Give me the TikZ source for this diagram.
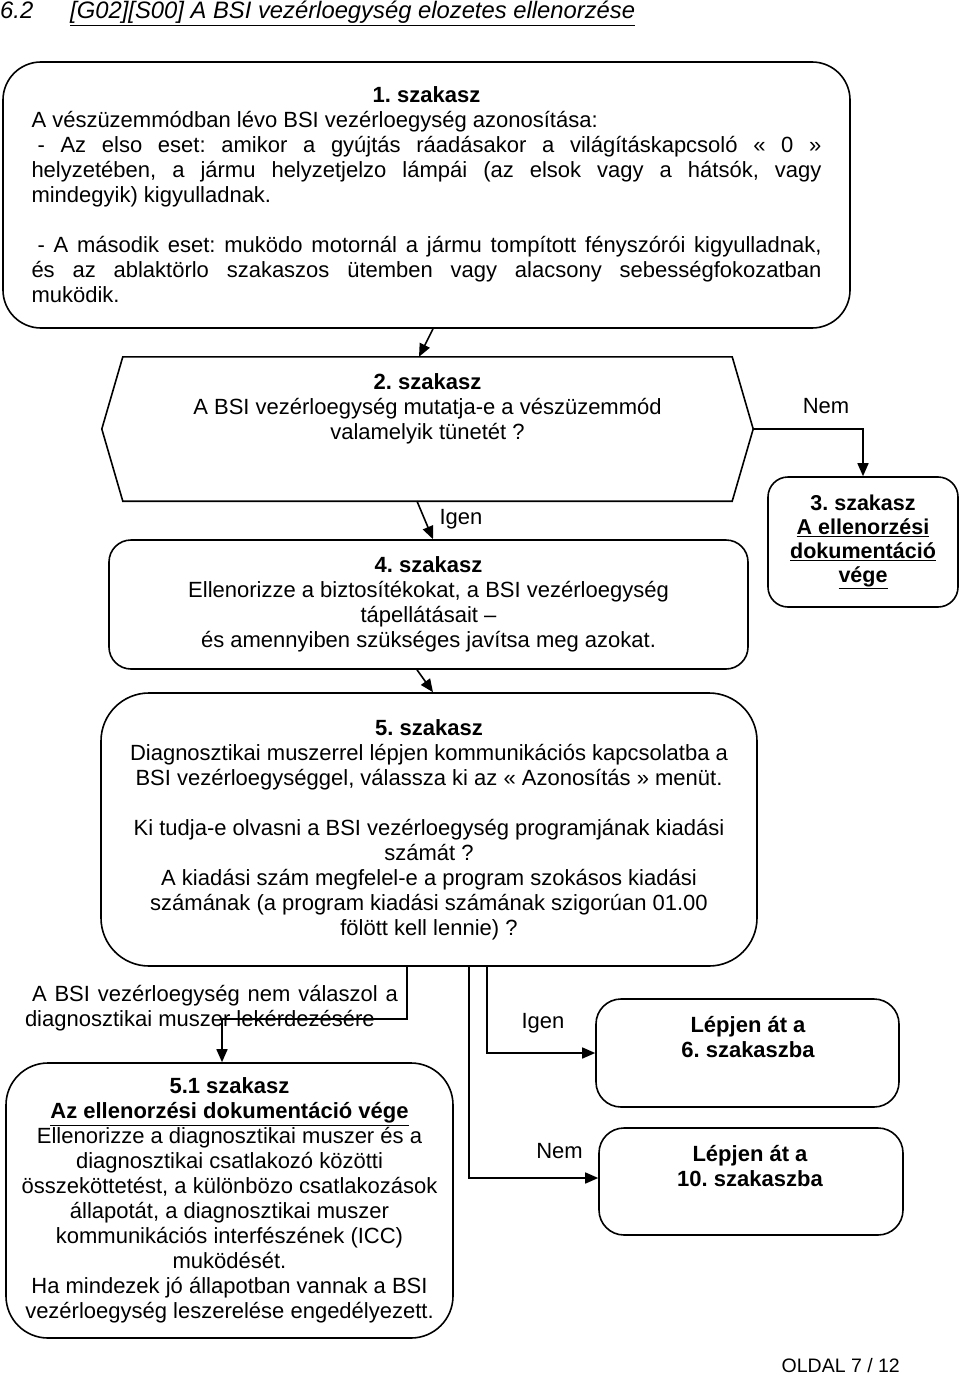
\documentclass[tikz,border=0pt]{standalone}
\usepackage{fontspec}
\setmainfont{Liberation Sans}
\usetikzlibrary{arrows.meta}
\newcommand\bodysize{\fontsize{22}{25}\selectfont}
\hyphenpenalty=10000
\exhyphenpenalty=10000
\frenchspacing

\begin{document}
\begin{tikzpicture}[x=1pt,y=-1pt,
	box/.style={draw=black, line width=1.6pt, inner sep=0pt, align=center, font=\bodysize},
	txt/.style={inner sep=0pt, align=center, font=\bodysize},
	flow/.style={-{Triangle[length=13pt,width=11pt]}, line width=1.6pt},
	wire/.style={line width=1.6pt}]
	\useasboundingbox (0,0) rectangle (960,1375);

	% title
	\node[anchor=base west, inner sep=0pt, font=\fontsize{23.8}{27}\selectfont\itshape] (num) at (0,19) {6.2};
	\node[anchor=base west, inner sep=0pt, font=\fontsize{23.8}{27}\selectfont\itshape] (title) at (70,19) {\underline{[G02][S00] A BSI vezérloegység elozetes ellenorzése}};

	% boxes
	\node[box, rounded corners=38pt, minimum width=847pt, minimum height=266pt, text width=790pt, align=justify] (s1) at (426.5,195) {\centerline{\textbf{1. szakasz}}
		A vészüzemmódban lévo BSI vezérloegység azonosítása:\par
		\hspace*{6pt}- Az elso eset: amikor a gyújtás ráadásakor a világításkapcsoló «~0~»\linebreak
		helyzetében, a jármu helyzetjelzo lámpái (az elsok vagy a hátsók, vagy\linebreak
		mindegyik) kigyulladnak.\par\vskip 25pt
		\hspace*{6pt}- A második eset: muködo motornál a jármu tompított fényszórói kigyulladnak,\linebreak
		és az ablaktörlo szakaszos ütemben vagy alacsony sebességfokozatban\linebreak
		muködik.};

	\node[minimum width=609pt, minimum height=144pt, inner sep=0pt] (s2) at (427.5,429) {};
	\coordinate (s2l) at ([xshift=-21pt]s2.west);
	\coordinate (s2r) at ([xshift=21pt]s2.east);
	\draw[wire] (s2.north west) -- (s2.north east) -- (s2r) -- (s2.south east) -- (s2.south west) -- (s2l) -- cycle;
	\node[txt] (s2t) at (427.5,409) {\textbf{2. szakasz}\\A BSI vezérloegység mutatja-e a vészüzemmód\\valamelyik tünetét ?};

	\node[box, rounded corners=20pt, minimum width=190pt, minimum height=130pt, font=\fontsize{21.5}{23.7}\selectfont\bfseries] (s3) at (863,542) {3. szakasz\\\underline{A ellenorzési}\\\underline{dokumentáció}\\\underline{vége}};

	\node[box, rounded corners=22pt, minimum width=639pt, minimum height=129pt] (s4) at (428.5,604.5) {\textbf{4. szakasz}\\Ellenorizze a biztosítékokat, a BSI vezérloegység\\tápellátásait --\\és amennyiben szükséges javítsa meg azokat.};

	\node[box, rounded corners=48pt, minimum width=656pt, minimum height=273pt] (s5) at (429,829.5) {\textbf{5. szakasz}\\Diagnosztikai muszerrel lépjen kommunikációs kapcsolatba a\\BSI vezérloegységgel, válassza ki az «~Azonosítás~» menüt.\\[25pt]Ki tudja-e olvasni a BSI vezérloegység programjának kiadási\\számát ?\\A kiadási szám megfelel-e a program szokásos kiadási\\számának (a program kiadási számának szigorúan 01.00\\fölött kell lennie) ?};

	\node[box, rounded corners=25pt, minimum width=303pt, minimum height=108pt] (s6) at (747.5,1053) {};
	\node[txt, font=\bodysize\bfseries] (s6t) at (748,1037) {Lépjen át a\\6. szakaszba};

	\node[box, rounded corners=25pt, minimum width=304pt, minimum height=107pt] (s10) at (751,1181.5) {};
	\node[txt, font=\bodysize\bfseries] (s10t) at (750,1166.5) {Lépjen át a\\10. szakaszba};

	\node[box, rounded corners=42pt, minimum width=447pt, minimum height=275pt] (s51) at (229.5,1200.5) {\textbf{5.1 szakasz}\\\underline{\textbf{Az ellenorzési dokumentáció vége}}\\Ellenorizze a diagnosztikai muszer és a\\diagnosztikai csatlakozó közötti\\összeköttetést, a különbözo csatlakozások\\állapotát, a diagnosztikai muszer\\kommunikációs interfészének (ICC)\\muködését.\\Ha mindezek jó állapotban vannak a BSI\\vezérloegység leszerelése engedélyezett.};

	% labels
	\node[txt, text width=373pt, align=justify] (noresp) at (211.5,1008.5) {\hspace*{7pt}A BSI vezérloegység nem válaszol a\linebreak diagnosztikai muszer lekérdezésére};
	\node[txt, anchor=base] (nem1) at (826,413) {Nem};
	\node[txt, anchor=base] (igen1) at (461,524) {Igen};
	\node[txt, anchor=base] (igen2) at (543,1028) {Igen};
	\node[txt, anchor=base] (nem2) at (559.5,1158) {Nem};
	\node[anchor=base east, inner sep=0pt, font=\fontsize{19.5}{22}\selectfont] (page) at (900,1372) {OLDAL 7 / 12};

	% connectors
	\draw[flow] ([xshift=6.5pt]s1.south) -- ([xshift=-8.5pt]s2.north);
	\draw[flow] ([xshift=-10.5pt]s2.south) -- ([xshift=4.5pt]s4.north);
	\draw[flow] ([xshift=-11.5pt]s4.south) -- ([xshift=4pt]s5.north);
	\draw[flow] (s2r) -| (s3.north);
	\draw[flow] ([xshift=-22pt]s5.south) -- ++(0,52) -| ([xshift=-7.5pt]s51.north);
	\draw[flow] ([xshift=58pt]s5.south) |- (s6.west);
	\draw[flow] ([xshift=40pt]s5.south) |- ([yshift=3.5pt]s10.west);

\end{tikzpicture}
\end{document}
